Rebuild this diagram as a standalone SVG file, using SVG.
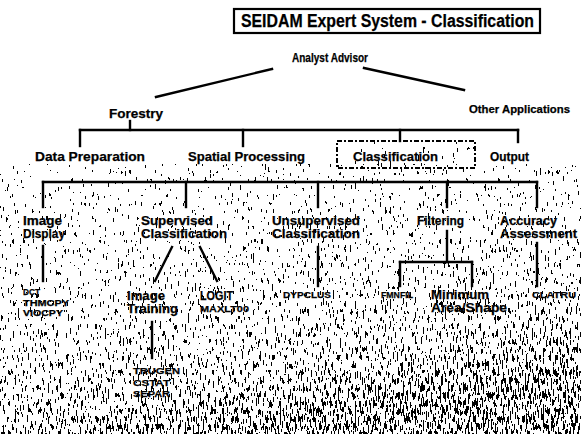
<svg xmlns="http://www.w3.org/2000/svg" width="581" height="434" viewBox="0 0 581 434">
  <defs>
    <style>
      .t { font-family: "Liberation Sans", Arial, sans-serif; font-weight: bold; fill: #000; stroke: #000; stroke-width: 0.25; }
      .title { font-size: 18px; }
      .h1 { font-size: 13px; }
      .h2 { font-size: 12.5px; }
      .code { font-size: 9.5px; }
      .code-s { font-size: 8.6px; }
      .edge { stroke: #000; stroke-width: 2.4; fill: none; stroke-linecap: square; }
      .frame { stroke: #000; stroke-width: 2.2; fill: none; }
      .dash { stroke: #000; stroke-width: 2; fill: none; stroke-dasharray: 5 2 2 2; }
    </style>
    <!-- shading ramp: lighter near the top of the lower panel, darker towards the bottom right -->
    <linearGradient id="ramp" x1="0" y1="0" x2="0.35" y2="1">
      <stop offset="0" stop-color="#f3f3f3"/>
      <stop offset="0.3" stop-color="#e6e6e6"/>
      <stop offset="0.6" stop-color="#d6d6d6"/>
      <stop offset="0.85" stop-color="#bbbbbb"/>
      <stop offset="1" stop-color="#969696"/>
    </linearGradient>
    <linearGradient id="rampLight" x1="0" y1="0" x2="0" y2="1">
      <stop offset="0" stop-color="#fafafa"/>
      <stop offset="1" stop-color="#f0f0f0"/>
    </linearGradient>
    <!-- stipple: streaky noise added to the ramp, then hard-thresholded to black specks -->
    <filter id="stipple" x="0" y="0" width="100%" height="100%" color-interpolation-filters="sRGB">
      <feTurbulence type="fractalNoise" baseFrequency="0.6 0.13" numOctaves="2" seed="7" result="n"/>
      <feColorMatrix in="n" type="matrix" values="1 0 0 0 0  1 0 0 0 0  1 0 0 0 0  0 0 0 0 1" result="ng"/>
      <feComposite in="ng" in2="SourceGraphic" operator="arithmetic" k1="0" k2="2" k3="1" k4="-1" result="sum"/>
      <feComponentTransfer in="sum" result="bw">
        <feFuncR type="discrete" tableValues="0 1"/>
      </feComponentTransfer>
      <feColorMatrix in="bw" type="matrix" values="0 0 0 0 0  0 0 0 0 0  0 0 0 0 0  -1 0 0 0 1"/>
    </filter>
  </defs>

  <rect width="581" height="434" fill="#fff"/>

  <!-- speckled lower panel -->
  <g id="texture">
    <rect x="0" y="164" width="581" height="270" fill="url(#ramp)" filter="url(#stipple)"/>
    <rect x="338" y="142" width="136" height="25" fill="url(#rampLight)" filter="url(#stipple)"/>
  </g>

  <!-- connectors -->
  <g id="connectors">
    <line class="edge" x1="272" y1="69" x2="156" y2="97"/>
    <line class="edge" x1="364" y1="68" x2="464" y2="90"/>
    <!-- Forestry bracket -->
    <line class="edge" x1="130" y1="121" x2="130" y2="130"/>
    <line class="edge" x1="80" y1="130" x2="518" y2="130"/>
    <line class="edge" x1="80" y1="130" x2="80" y2="146"/>
    <line class="edge" x1="243" y1="130" x2="243" y2="146"/>
    <line class="edge" x1="400" y1="130" x2="400" y2="141"/>
    <line class="edge" x1="518" y1="130" x2="518" y2="142"/>
    <!-- Classification bracket -->
    <line class="edge" x1="43" y1="182" x2="537" y2="182"/>
    <line class="edge" x1="43" y1="182" x2="43" y2="207"/>
    <line class="edge" x1="186" y1="182" x2="186" y2="207"/>
    <line class="edge" x1="318" y1="182" x2="318" y2="207"/>
    <line class="edge" x1="447" y1="182" x2="447" y2="207"/>
    <line class="edge" x1="537" y1="182" x2="537" y2="207"/>
    <!-- Image Display -->
    <line class="edge" x1="43" y1="246" x2="43" y2="281"/>
    <!-- Supervised Classification -->
    <line class="edge" x1="172" y1="247" x2="155" y2="281"/>
    <line class="edge" x1="200" y1="247" x2="217" y2="281"/>
    <line class="edge" x1="152" y1="322" x2="152" y2="358"/>
    <!-- Unsupervised Classification -->
    <line class="edge" x1="318" y1="247" x2="318" y2="286"/>
    <!-- Filtering -->
    <line class="edge" x1="447" y1="231" x2="447" y2="262"/>
    <line class="edge" x1="400" y1="262" x2="472" y2="262"/>
    <line class="edge" x1="400" y1="262" x2="400" y2="286"/>
    <line class="edge" x1="472" y1="262" x2="472" y2="286"/>
    <!-- Accuracy Assessment -->
    <line class="edge" x1="537" y1="243" x2="537" y2="286"/>
  </g>

  <g id="title">
    <rect class="frame" x="234" y="9" width="306" height="24"/>
    <text class="t title" x="241" y="27" textLength="293" lengthAdjust="spacingAndGlyphs">SEIDAM Expert System - Classification</text>
  </g>

  <g id="analyst-advisor">
    <text class="t h1" x="292" y="62" textLength="76" lengthAdjust="spacingAndGlyphs">Analyst Advisor</text>
  </g>
  <g id="forestry">
    <text class="t h1" x="109" y="118" textLength="54" lengthAdjust="spacingAndGlyphs">Forestry</text>
  </g>
  <g id="other-applications">
    <text class="t" style="font-size:11.5px" x="469" y="113" textLength="101" lengthAdjust="spacingAndGlyphs">Other Applications</text>
  </g>

  <g id="data-preparation">
    <text class="t h1" x="35" y="161" textLength="110" lengthAdjust="spacingAndGlyphs">Data Preparation</text>
  </g>
  <g id="spatial-processing">
    <text class="t h1" x="188" y="161" textLength="117" lengthAdjust="spacingAndGlyphs">Spatial Processing</text>
  </g>
  <g id="classification">
    <rect class="dash" x="337" y="141" width="138" height="27"/>
    <text class="t h1" x="353" y="161" textLength="85" lengthAdjust="spacingAndGlyphs">Classification</text>
  </g>
  <g id="output">
    <text class="t h1" x="490" y="161" textLength="39" lengthAdjust="spacingAndGlyphs">Output</text>
  </g>

  <g id="image-display">
    <text class="t h2" x="23" y="225" textLength="39" lengthAdjust="spacingAndGlyphs">Image</text>
    <text class="t h2" x="23" y="238" textLength="42" lengthAdjust="spacingAndGlyphs">Display</text>
  </g>
  <g id="image-display-programs">
    <text class="t code-s" x="23" y="295" textLength="17" lengthAdjust="spacingAndGlyphs">DCT</text>
    <text class="t code-s" x="23" y="305.5" textLength="46" lengthAdjust="spacingAndGlyphs">THMCPY</text>
    <text class="t code-s" x="23" y="316" textLength="40" lengthAdjust="spacingAndGlyphs">VIOCPY</text>
  </g>

  <g id="supervised-classification">
    <text class="t h2" x="141" y="225" textLength="72" lengthAdjust="spacingAndGlyphs">Supervised</text>
    <text class="t h2" x="141" y="238" textLength="86" lengthAdjust="spacingAndGlyphs">Classification</text>
  </g>
  <g id="image-training">
    <text class="t h2" x="127" y="300" textLength="38" lengthAdjust="spacingAndGlyphs">Image</text>
    <text class="t h2" x="127" y="313" textLength="51" lengthAdjust="spacingAndGlyphs">Training</text>
  </g>
  <g id="image-training-programs">
    <text class="t code" x="133" y="374" textLength="47" lengthAdjust="spacingAndGlyphs">TRUGEN</text>
    <text class="t code" x="133" y="385.5" textLength="37" lengthAdjust="spacingAndGlyphs">CSTAT</text>
    <text class="t code" x="133" y="397" textLength="37" lengthAdjust="spacingAndGlyphs">SEPAR</text>
  </g>
  <g id="logit">
    <text class="t h2" x="200" y="300" textLength="33" lengthAdjust="spacingAndGlyphs">LOGIT</text>
    <text class="t code" x="200" y="312" textLength="49" lengthAdjust="spacingAndGlyphs">MAXLT00</text>
  </g>

  <g id="unsupervised-classification">
    <text class="t h2" x="272" y="225" textLength="88" lengthAdjust="spacingAndGlyphs">Unsupervised</text>
    <text class="t h2" x="272" y="238" textLength="88" lengthAdjust="spacingAndGlyphs">Classification</text>
  </g>
  <g id="dypclus">
    <text class="t code" x="283" y="298" textLength="48" lengthAdjust="spacingAndGlyphs">DYPCLUS</text>
  </g>

  <g id="filtering">
    <text class="t h2" x="417" y="225" textLength="47" lengthAdjust="spacingAndGlyphs">Filtering</text>
  </g>
  <g id="fmnfil">
    <text class="t code" x="381" y="298" textLength="32" lengthAdjust="spacingAndGlyphs">FMNFIL</text>
  </g>
  <g id="minimum-area-shape">
    <text class="t h2" x="431" y="299" textLength="58" lengthAdjust="spacingAndGlyphs">Minimum</text>
    <text class="t h2" x="431" y="312" textLength="76" lengthAdjust="spacingAndGlyphs">Area/Shape</text>
  </g>

  <g id="accuracy-assessment">
    <text class="t h2" x="500" y="225" textLength="57" lengthAdjust="spacingAndGlyphs">Accuracy</text>
    <text class="t h2" x="500" y="238" textLength="77" lengthAdjust="spacingAndGlyphs">Assessment</text>
  </g>
  <g id="clatru">
    <text class="t code" x="532" y="298" textLength="44" lengthAdjust="spacingAndGlyphs">CLATRU</text>
  </g>
</svg>
